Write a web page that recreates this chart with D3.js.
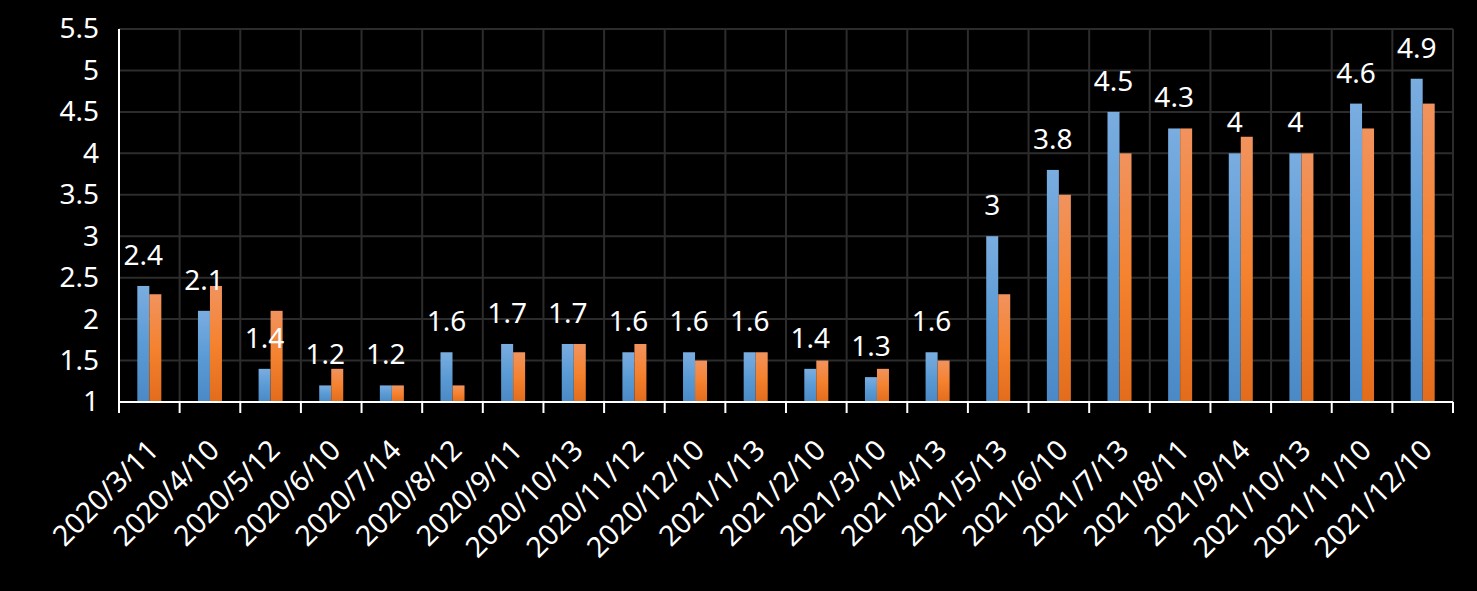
<!DOCTYPE html>
<html>
<head>
<meta charset="utf-8">
<script src="https://cdn.jsdelivr.net/npm/d3@7"></script>
<style>
  html, body { margin: 0; padding: 0; background: #000; }
  svg { display: block; }
  text { font-family: "Noto Sans", "Open Sans", sans-serif; fill: #fff; }
</style>
</head>
<body>
<svg id="chart" width="1477" height="591"></svg>
<script>
const categories = ["2020/3/11","2020/4/10","2020/5/12","2020/6/10","2020/7/14","2020/8/12","2020/9/11","2020/10/13","2020/11/12","2020/12/10","2021/1/13","2021/2/10","2021/3/10","2021/4/13","2021/5/13","2021/6/10","2021/7/13","2021/8/11","2021/9/14","2021/10/13","2021/11/10","2021/12/10"];
const seriesBlue = [2.4,2.1,1.4,1.2,1.2,1.6,1.7,1.7,1.6,1.6,1.6,1.4,1.3,1.6,3,3.8,4.5,4.3,4,4,4.6,4.9];
const seriesOrange = [2.3,2.4,2.1,1.4,1.2,1.2,1.6,1.7,1.7,1.5,1.6,1.5,1.4,1.5,2.3,3.5,4.0,4.3,4.2,4.0,4.3,4.6];
const yTicks = [1,1.5,2,2.5,3,3.5,4,4.5,5,5.5];

const svg = d3.select("#chart");
const W = 1477, H = 591;
svg.append("rect").attr("width", W).attr("height", H).attr("fill", "#000");

const pLeft = 119, pRight = 1453, pTop = 29, pBottom = 402;
const x = d3.scaleBand().domain(categories).range([pLeft, pRight]).padding(0);
const y = d3.scaleLinear().domain([1, 5.5]).range([pBottom, pTop]);
const barW = x.bandwidth() * 0.198;

const defs = svg.append("defs");
function grad(id, c1, c2, c3) {
  const g = defs.append("linearGradient").attr("id", id).attr("x1", 0).attr("y1", 0).attr("x2", 0).attr("y2", 1);
  g.append("stop").attr("offset", "0%").attr("stop-color", c1);
  g.append("stop").attr("offset", "50%").attr("stop-color", c2);
  g.append("stop").attr("offset", "100%").attr("stop-color", c3);
}
grad("gBlue", "#7AADE0", "#5B9BD5", "#4A89C5");
grad("gOrange", "#F1935E", "#F5822F", "#E26C1C");

// gridlines
const grid = svg.append("g");
grid.selectAll("line.h").data(yTicks.slice(1)).enter().append("line")
  .attr("x1", pLeft).attr("x2", pRight)
  .attr("y1", d => y(d)).attr("y2", d => y(d))
  .attr("stroke", "#2c2c2c").attr("stroke-width", 2);
const bounds = categories.map(c => x(c)).concat([pRight]).slice(1);
grid.selectAll("line.v").data(bounds).enter().append("line")
  .attr("x1", d => d).attr("x2", d => d)
  .attr("y1", pTop).attr("y2", pBottom)
  .attr("stroke", "#2c2c2c").attr("stroke-width", 2);

// bars
const bars = svg.append("g");
bars.selectAll("rect.b").data(categories).enter().append("rect")
  .attr("x", (d) => x(d) + x.bandwidth() / 2 - barW)
  .attr("y", (d, i) => y(seriesBlue[i]))
  .attr("width", barW)
  .attr("height", (d, i) => y(1) - y(seriesBlue[i]))
  .attr("fill", "url(#gBlue)");
bars.selectAll("rect.o").data(categories).enter().append("rect")
  .attr("x", (d) => x(d) + x.bandwidth() / 2)
  .attr("y", (d, i) => y(seriesOrange[i]))
  .attr("width", barW)
  .attr("height", (d, i) => y(1) - y(seriesOrange[i]))
  .attr("fill", "url(#gOrange)");

// data labels
svg.append("g").selectAll("text").data(categories).enter().append("text")
  .attr("x", d => x(d) + x.bandwidth() / 2 - barW / 2)
  .attr("y", (d, i) => y(seriesBlue[i]) - 21)
  .attr("text-anchor", "middle")
  .attr("font-size", 28)
  .text((d, i) => seriesBlue[i]);

// y axis
const yAxis = d3.axisLeft(y).tickValues(yTicks).tickSize(0).tickPadding(20).tickFormat(d => d);
const yg = svg.append("g").attr("transform", `translate(${pLeft},0)`).call(yAxis);
yg.select(".domain").remove();
yg.selectAll("text").attr("font-size", 28).attr("fill", "#fff").attr("font-family", '"Noto Sans", "Open Sans", sans-serif');
svg.append("line").attr("x1", pLeft).attr("x2", pLeft).attr("y1", pTop).attr("y2", pBottom + 11)
  .attr("stroke", "#fff").attr("stroke-width", 2);

// x axis
const xg = svg.append("g").attr("transform", `translate(0,${pBottom})`);
xg.append("line").attr("x1", pLeft).attr("x2", pRight).attr("y1", 0).attr("y2", 0)
  .attr("stroke", "#fff").attr("stroke-width", 2);
xg.selectAll("line.t").data([pLeft].concat(bounds)).enter().append("line")
  .attr("x1", d => d).attr("x2", d => d).attr("y1", 0).attr("y2", 11)
  .attr("stroke", "#fff").attr("stroke-width", 2);
xg.selectAll("text.xl").data(categories).enter().append("text")
  .attr("transform", d => `translate(${x(d) + x.bandwidth() / 2 + 11},${50}) rotate(-45)`)
  .attr("text-anchor", "end")
  .attr("font-size", 28.5)
  .text(d => d);
</script>
</body>
</html>
